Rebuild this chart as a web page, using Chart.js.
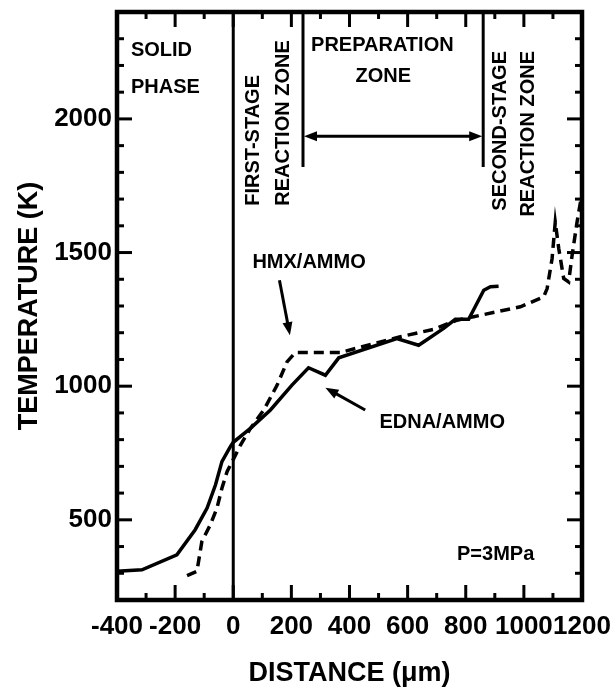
<!DOCTYPE html>
<html>
<head>
<meta charset="utf-8">
<script src="https://cdn.jsdelivr.net/npm/chart.js@4"></script>
<style>
  body { margin: 0; background: #fff; }
  #wrap { width: 614px; height: 690px; }
</style>
</head>
<body>
<div id="wrap"><canvas id="grafica"></canvas></div>
<script>
// datos (distancia en um, temperatura en K)
const ednaX = [-400, -314, -194, -131, -90, -61, -39, -10, 0, 59, 128, 202, 259, 317, 363, 563, 638, 724, 764, 810, 862, 885, 913];
const ednaT = [308, 313, 369, 463, 544, 631, 718, 774, 790, 842, 911, 1004, 1069, 1041, 1106, 1178, 1153, 1216, 1250, 1250, 1359, 1372, 1374];

const hmxX = [-159, -125, -108, -79, -56, -39, -21, 2, 25, 59, 105, 151, 185, 214, 368, 575, 690, 770, 827, 988, 1068, 1080, 1097, 1108, 1120, 1137, 1154, 1166, 1183, 1195];
const hmxT = [291, 307, 419, 481, 544, 618, 681, 730, 780, 842, 911, 1004, 1091, 1126, 1126, 1185, 1213, 1247, 1260, 1297, 1334, 1365, 1477, 1614, 1515, 1403, 1390, 1490, 1614, 1690];

const xTicks = [-400, -200, 0, 200, 400, 600, 800, 1000, 1200];
const yTicks = [500, 1000, 1500, 2000];

// lineas de zona: [x, desde T, hasta T]
const zoneLines = [[0, 200, 2400], [240, 1820, 2400], [860, 1820, 2400]];
const zoneArrow = [240, 860, 1935];

// flechas de las etiquetas: [x cola, T cola, x punta, T punta]
const labelArrows = [[159, 1396, 195, 1191], [454, 911, 317, 994]];

// textos: [texto, x, T, alineacion, rotado]
const notes = [
  ["SOLID", -352, 2255, "left", false],
  ["PHASE", -352, 2119, "left", false],
  ["FIRST-STAGE", 70, 1675, "left", true],
  ["REACTION ZONE", 173, 1675, "left", true],
  ["PREPARATION", 513, 2276, "center", false],
  ["ZONE", 516, 2160, "center", false],
  ["SECOND-STAGE", 919, 2254, "right", true],
  ["REACTION ZONE", 1016, 2254, "right", true],
  ["HMX/AMMO", 66, 1462, "left", false],
  ["EDNA/AMMO", 503, 863, "left", false],
  ["P=3MPa", 770, 369, "left", false]
];

const FONT = "'Liberation Sans', Arial, sans-serif";

function toPoints(xs, ys) {
  return xs.map((x, i) => ({ x: x, y: ys[i] }));
}

function line(ctx, x1, y1, x2, y2) {
  ctx.beginPath();
  ctx.moveTo(x1, y1);
  ctx.lineTo(x2, y2);
  ctx.stroke();
}

function arrowHead(ctx, x1, y1, x2, y2) {
  const ang = Math.atan2(y2 - y1, x2 - x1);
  const L = 13, W = 5;
  const bx = x2 - L * Math.cos(ang), by = y2 - L * Math.sin(ang);
  ctx.beginPath();
  ctx.moveTo(x2, y2);
  ctx.lineTo(bx + W * Math.sin(ang), by - W * Math.cos(ang));
  ctx.lineTo(bx - W * Math.sin(ang), by + W * Math.cos(ang));
  ctx.closePath();
  ctx.fill();
}

// marco, ticks hacia adentro y anotaciones
const extras = {
  id: "extras",
  afterDraw(chart) {
    const ctx = chart.ctx;
    const sx = chart.scales.x, sy = chart.scales.y;
    const { left, right, top, bottom } = chart.chartArea;

    ctx.save();
    ctx.strokeStyle = "#000";
    ctx.fillStyle = "#000";
    ctx.lineCap = "butt";

    // lineas de zona
    ctx.lineWidth = 3;
    zoneLines.forEach(z => {
      const p = sx.getPixelForValue(z[0]);
      line(ctx, p, sy.getPixelForValue(z[1]), p, sy.getPixelForValue(z[2]));
    });

    // flecha doble de la zona de preparacion
    const ax1 = sx.getPixelForValue(zoneArrow[0]);
    const ax2 = sx.getPixelForValue(zoneArrow[1]);
    const ay = sy.getPixelForValue(zoneArrow[2]);
    ctx.lineWidth = 3;
    line(ctx, ax1 + 8, ay, ax2 - 8, ay);
    arrowHead(ctx, ax2, ay, ax1 + 1, ay);
    arrowHead(ctx, ax1, ay, ax2 - 1, ay);

    // flechas de etiquetas
    labelArrows.forEach(a => {
      const x1 = sx.getPixelForValue(a[0]), y1 = sy.getPixelForValue(a[1]);
      const x2 = sx.getPixelForValue(a[2]), y2 = sy.getPixelForValue(a[3]);
      const ang = Math.atan2(y2 - y1, x2 - x1);
      line(ctx, x1, y1, x2 - 8 * Math.cos(ang), y2 - 8 * Math.sin(ang));
      arrowHead(ctx, x1, y1, x2, y2);
    });

    // textos
    ctx.font = "bold 20px " + FONT;
    ctx.textBaseline = "middle";
    notes.forEach(n => {
      const px = sx.getPixelForValue(n[1]), py = sy.getPixelForValue(n[2]);
      ctx.save();
      ctx.translate(px, py);
      if (n[4]) ctx.rotate(-Math.PI / 2);
      ctx.textAlign = n[3];
      ctx.fillText(n[0], 0, 0);
      ctx.restore();
    });

    // marco
    ctx.lineWidth = 4.5;
    ctx.strokeRect(left, top, right - left, bottom - top);

    // ticks
    ctx.lineWidth = 3;
    for (let v = -400; v <= 1200; v += 100) {
      const p = sx.getPixelForValue(v);
      const len = v % 200 === 0 ? 15 : 7;
      line(ctx, p, bottom, p, bottom - len);
      line(ctx, p, top, p, top + len);
    }
    for (let v = 200; v <= 2400; v += 100) {
      const p = sy.getPixelForValue(v);
      const len = v % 500 === 0 ? 15 : 7;
      line(ctx, left, p, left + len, p);
      line(ctx, right, p, right - len, p);
    }
    ctx.restore();
  }
};

const ctx = document.getElementById("grafica").getContext("2d");

new Chart(ctx, {
  type: "line",
  data: {
    datasets: [
      {
        label: "EDNA/AMMO",
        data: toPoints(ednaX, ednaT),
        borderColor: "#000",
        borderWidth: 3.5,
        pointRadius: 0,
        tension: 0
      },
      {
        label: "HMX/AMMO",
        data: toPoints(hmxX, hmxT),
        borderColor: "#000",
        borderWidth: 3.5,
        borderDash: [10, 6],
        pointRadius: 0,
        tension: 0
      }
    ]
  },
  options: {
    responsive: true,
    maintainAspectRatio: false,
    animation: false,
    layout: { padding: { top: 12, right: 32, left: 0, bottom: 0 } },
    plugins: { legend: { display: false }, tooltip: { enabled: false } },
    scales: {
      x: {
        type: "linear",
        min: -400,
        max: 1200,
        afterBuildTicks: s => { s.ticks = xTicks.map(v => ({ value: v })); },
        afterFit: s => { s.height = 90; s.paddingLeft = 0; s.paddingRight = 0; },
        grid: { display: false, drawTicks: false },
        border: { display: false },
        ticks: {
          autoSkip: false,
          maxRotation: 0,
          padding: 11,
          color: "#000",
          callback: v => String(v),
          font: { family: FONT, size: 26, weight: "bold" }
        },
        title: {
          display: true,
          text: "DISTANCE (μm)",
          color: "#000",
          padding: { top: 0, bottom: 0 },
          font: { family: FONT, size: 27, weight: "bold" }
        }
      },
      y: {
        min: 200,
        max: 2400,
        afterBuildTicks: s => { s.ticks = yTicks.map(v => ({ value: v })); },
        afterFit: s => { s.width = 117; s.paddingTop = 0; s.paddingBottom = 0; },
        grid: { display: false, drawTicks: false },
        border: { display: false },
        ticks: {
          padding: 5,
          color: "#000",
          callback: v => String(v),
          font: { family: FONT, size: 26, weight: "bold" }
        },
        title: {
          display: true,
          text: "TEMPERATURE (K)",
          color: "#000",
          padding: { top: 13, bottom: 0 },
          font: { family: FONT, size: 27, weight: "bold" }
        }
      }
    }
  },
  plugins: [extras]
});
</script>
</body>
</html>
